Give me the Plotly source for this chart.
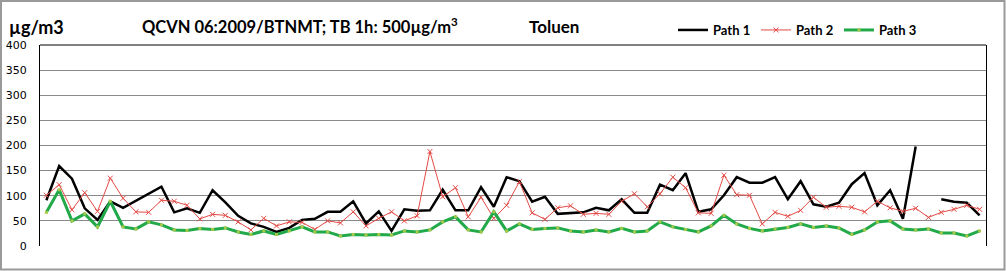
import plotly.graph_objects as go

categories = list(range(1, 75))

path1 = [91, 159, 134, 75, 52, 89, 76, 90, 104, 118, 67, 75, 66, 111, 87, 60, 45, 38, 28, 36,
         52, 54, 68, 68, 89, 45, 69, 30, 73, 70, 71, 112, 71, 71, 117, 78, 137, 129, 88, 98,
         64, 65, 67, 76, 71, 93, 66, 66, 122, 111, 145, 68, 73, 101, 137, 126, 126, 137, 93, 129,
         83, 78, 86, 123, 145, 81, 111, 54, 198, None, 93, 88, 86, 61]

path2 = [101, 122, 72, 106, 69, 135, 95, 68, 67, 91, 89, 81, 54, 63, 61, 48, 32, 55, 40, 48,
         47, 33, 50, 46, 68, 40, 55, 68, 50, 60, 188, 98, 116, 58, 97, 55, 81, 128, 66, 53,
         76, 80, 63, 65, 63, 89, 104, 78, 104, 137, 116, 66, 65, 141, 102, 101, 44, 67, 59, 71,
         97, 77, 79, 77, 68, 89, 76, 69, 75, 57, 67, 73, 81, 73]

path3 = [67, 112, 50, 64, 38, 89, 38, 34, 48, 42, 32, 31, 35, 33, 36, 28, 23, 30, 23, 30,
         38, 28, 28, 20, 23, 22, 23, 22, 30, 28, 32, 48, 58, 32, 28, 68, 30, 44, 33, 35,
         36, 30, 28, 32, 28, 35, 28, 30, 48, 38, 33, 28, 40, 61, 44, 35, 30, 34, 37, 44,
         37, 40, 36, 23, 32, 48, 50, 34, 32, 34, 26, 26, 20, 30]

series_names = ["Path 1", "Path 2", "Path 3"]
y_ticks = [0, 50, 100, 150, 200, 250, 300, 350, 400]

W, H = 1006, 271
L, R, T, B = 40, 20, 45, 25
pw, ph = W - L - R, H - T - B

def px(x):
    return (x - L) / pw

def py(y):
    return (H - B - y) / ph

fig = go.Figure()
fig.add_trace(go.Scatter(x=categories, y=path1, name=series_names[0], mode="lines",
                         line=dict(color="black", width=2.5), connectgaps=False))
fig.add_trace(go.Scatter(x=categories, y=path2, name=series_names[1], mode="lines+markers",
                         line=dict(color="#e34a45", width=1),
                         marker=dict(symbol="x-thin", size=5, line=dict(color="#e34a45", width=1))))
fig.add_trace(go.Scatter(x=categories, y=path3, name=series_names[2], mode="lines+markers",
                         line=dict(color="#22a94a", width=3),
                         marker=dict(symbol="square", size=3, color="#a6c94a")))

font_title = "Lato, 'Open Sans', sans-serif"

fig.update_layout(
    width=W, height=H,
    margin=dict(l=L, r=R, t=T, b=B, autoexpand=False),
    paper_bgcolor="white", plot_bgcolor="white",
    showlegend=True,
    legend=dict(orientation="h", x=px(673), y=py(30), xanchor="left", yanchor="middle",
                font=dict(family=font_title, size=13, color="black", weight="bold"),
                entrywidth=38, entrywidthmode="pixels", tracegroupgap=0,
                itemwidth=30, bgcolor="rgba(0,0,0,0)"),
    xaxis=dict(type="linear", range=[0.5, 74.5], showticklabels=False, showgrid=False,
               zeroline=False, ticks="", showline=False),
    yaxis=dict(range=[0, 400], tickvals=y_ticks, showgrid=True, gridcolor="#8a8a8a", gridwidth=1,
               zeroline=False, showline=True, linecolor="black", linewidth=1, mirror=True,
               ticks="", ticklabelstandoff=10,
               tickfont=dict(family="DejaVu Sans, Verdana, sans-serif", size=11, color="black")),
)

# top border of plot area
fig.add_shape(type="line", xref="paper", yref="paper", x0=0, x1=1, y0=1, y1=1,
              line=dict(color="black", width=1))
# outer chart border
fig.add_shape(type="rect", xref="paper", yref="paper",
              x0=px(1), x1=px(1004.5), y0=py(1), y1=py(269.5),
              line=dict(color="#9a9a9a", width=2), layer="below")

fig.add_annotation(text="<b>µg/m3</b>", xref="paper", yref="paper", x=px(7), y=py(27),
                   xanchor="left", yanchor="middle", showarrow=False,
                   font=dict(family=font_title, size=18, color="black"))
fig.add_annotation(text="<b>QCVN 06:2009/BTNMT; TB 1h: 500µg/m<sup>3</sup></b>", xref="paper", yref="paper",
                   x=px(140), y=py(26), xanchor="left", yanchor="middle", showarrow=False,
                   font=dict(family=font_title, size=16.5, color="black"))
fig.add_annotation(text="<b>Toluen</b>", xref="paper", yref="paper", x=px(527), y=py(27),
                   xanchor="left", yanchor="middle", showarrow=False,
                   font=dict(family=font_title, size=17, color="black"))

fig.write_html("out.html")
